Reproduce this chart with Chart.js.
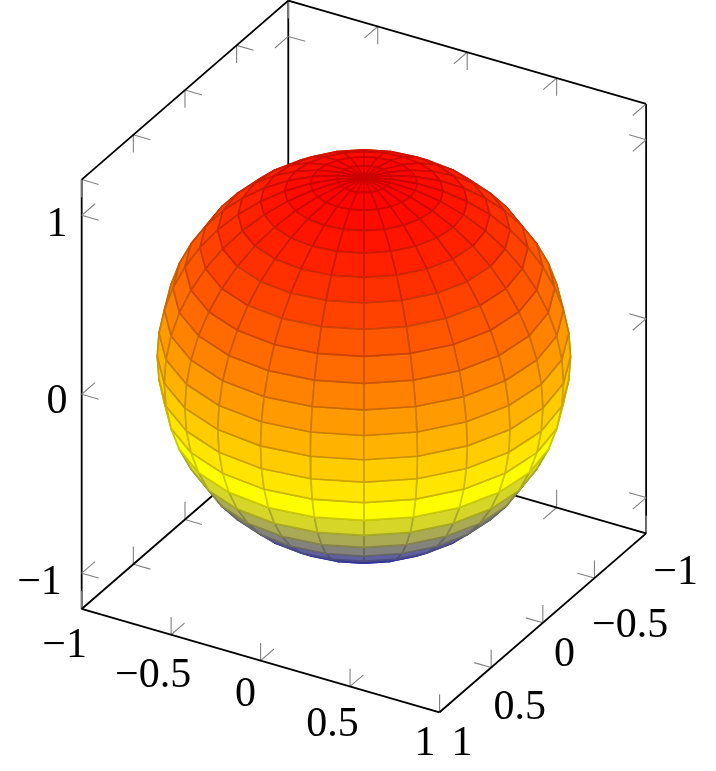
<!DOCTYPE html>
<html>
<head>
<meta charset="utf-8">
<title>Sphere</title>
<script src="https://cdn.jsdelivr.net/npm/chart.js@4/dist/chart.umd.min.js"></script>
<style>
  html, body { margin: 0; padding: 0; background: #fff; }
  #wrap { width: 716px; height: 771px; }
</style>
</head>
<body>
<div id="wrap"><canvas id="sphere" width="716" height="771"></canvas></div>
<script>
// surface grid of the sphere, in degrees
const lonDeg = [0, 15, 30, 45, 60, 75, 90, 105, 120, 135, 150, 165, 180, 195, 210, 225, 240, 255, 270, 285, 300, 315, 330, 345, 360];
const colatDeg = [0, 7.5, 15, 22.5, 30, 37.5, 45, 52.5, 60, 67.5, 75, 82.5, 90, 97.5, 105, 112.5, 120, 127.5, 135, 142.5, 150, 157.5, 165, 172.5, 180];

// axes
const xTicks = [-1, -0.5, 0, 0.5, 1];
const yTicks = [-1, -0.5, 0, 0.5, 1];
const zTicks = [-1, 0, 1];
const xTickLabels = ['\u22121', '\u22120.5', '0', '0.5', '1'];
const yTickLabels = ['\u22121', '\u22120.5', '0', '0.5', '1'];
const zTickLabels = ['\u22121', '0', '1'];
const xRange = [-1, 1];
const yRange = [-1, 1];
const zRange = [-1.2, 1.2];

// colormap "hot": blue, yellow, orange, red
const hotStops = [[0, 0, 255], [255, 255, 0], [255, 128, 0], [255, 0, 0]];

// label nudges in px from the tick
const xLabelNudge = [[-17, 48], [-18, 52], [-15, 45], [-17.5, 49.5], [-14.4, 42.7]];
const yLabelNudge = [[29.5, 50.7], [35.6, 59], [21.8, 43.2], [28.5, 51.4], [22.6, 42.7]];
const zLabelNudge = [[-42.2, 21.2], [-24.7, 19], [-24.7, 21]];

// view {30}{30}
const rad = Math.PI / 180;
const az = 30 * rad, el = 30 * rad;
const project = (x, y, z) => ({
    x: Math.cos(az) * x - Math.sin(az) * y,
    y: -Math.sin(az) * Math.sin(el) * x - Math.cos(az) * Math.sin(el) * y + Math.cos(el) * z
});
const depth = (x, y, z) => Math.sin(az) * Math.cos(el) * x + Math.cos(az) * Math.cos(el) * y + Math.sin(el) * z;

const hot = (z) => {
    const t = Math.max(0, Math.min(2.9999, (z + 1) / 2 * 3));
    const i = Math.floor(t), f = t - i;
    return hotStops[i].map((c, k) => c + (hotStops[i + 1][k] - c) * f);
};
const rgb = (c, k) => `rgb(${c.map(v => Math.round(v * k)).join(',')})`;

const sphere = (u, v) => [
    Math.cos(u * rad) * Math.sin(v * rad),
    Math.sin(u * rad) * Math.sin(v * rad),
    Math.cos(v * rad)
];

// quads back to front
let quads = [];
for (let i = 0; i < colatDeg.length - 1; i++) {
    for (let j = 0; j < lonDeg.length - 1; j++) {
        const corners = [
            sphere(lonDeg[j], colatDeg[i]),
            sphere(lonDeg[j + 1], colatDeg[i]),
            sphere(lonDeg[j + 1], colatDeg[i + 1]),
            sphere(lonDeg[j], colatDeg[i + 1]),
            sphere(lonDeg[j], colatDeg[i])
        ];
        const four = corners.slice(0, 4);
        const mean = k => four.reduce((s, c) => s + c[k], 0) / 4;
        quads.push({ corners, d: depth(mean(0), mean(1), mean(2)), z: mean(2) });
    }
}
quads.sort((a, b) => a.d - b.d);

const black = { borderColor: '#000', borderWidth: 1.8 };
const gray = { borderColor: '#808080', borderWidth: 1.1 };
const seg = (a, b, style) => ({
    data: [project(...a), project(...b)],
    showLine: true, pointRadius: 0, fill: false, borderCapStyle: 'butt', ...style
});

let paint = [];
const [x0, x1] = xRange, [y0, y1] = yRange, [z0, z1] = zRange;
const dx = 0.095, dy = 0.1295, dz = 0.099;

// vertical edges go under the ticks
paint.push(seg([x0, y1, z0], [x0, y1, z1], black));
paint.push(seg([x0, y0, z0], [x0, y0, z1], black));
paint.push(seg([x1, y0, z0], [x1, y0, z1], black));

xTicks.forEach(t => {
    paint.push(seg([t, y1, z0], [t, y1, z0 + dz], gray));
    paint.push(seg([t, y1, z0], [t, y1 - dy, z0], gray));
    paint.push(seg([t, y0, z0], [t, y0, z0 + dz], gray));
    paint.push(seg([t, y0, z0], [t, y0 + dy, z0], gray));
    if (t < x1) paint.push(seg([t, y0, z1], [t, y0, z1 - dz], gray));
    paint.push(seg([t, y0, z1], [t, y0 + dy, z1], gray));
});
yTicks.forEach(t => {
    paint.push(seg([x1, t, z0], [x1, t, z0 + dz], gray));
    paint.push(seg([x1, t, z0], [x1 - dx, t, z0], gray));
    paint.push(seg([x0, t, z0], [x0, t, z0 + dz], gray));
    paint.push(seg([x0, t, z0], [x0 + dx, t, z0], gray));
    paint.push(seg([x0, t, z1], [x0, t, z1 - dz], gray));
    paint.push(seg([x0, t, z1], [x0 + dx, t, z1], gray));
});
zTicks.forEach(t => {
    paint.push(seg([x0, y1, t], [x0 + dx, y1, t], gray));
    paint.push(seg([x0, y1, t], [x0, y1 - dy, t], gray));
    paint.push(seg([x0, y0, t], [x0 + dx, y0, t], gray));
    paint.push(seg([x0, y0, t], [x0, y0 + dy, t], gray));
    paint.push(seg([x1, y0, t], [x1 - dx, y0, t], gray));
    paint.push(seg([x1, y0, t], [x1, y0 + dy, t], gray));
});

// slanted edges
paint.push(seg([x0, y0, z0], [x1, y0, z0], black));
paint.push(seg([x0, y0, z0], [x0, y1, z0], black));
paint.push(seg([x0, y1, z0], [x1, y1, z0], black));
paint.push(seg([x1, y1, z0], [x1, y0, z0], black));
paint.push(seg([x0, y1, z1], [x0, y0, z1], black));
paint.push(seg([x0, y0, z1], [x1, y0, z1], black));

quads.forEach(q => {
    const c = hot(q.z);
    paint.push({
        data: q.corners.map(p => project(...p)),
        showLine: true,
        pointRadius: 0,
        fill: 'shape',
        backgroundColor: rgb(c, 1),
        borderColor: rgb(c, 0.8),
        borderWidth: 1.7,
        borderJoinStyle: 'round'
    });
});

// chart.js paints the first dataset last
paint.reverse();

const tickText = {
    id: 'tickText',
    afterDraw(chart) {
        const { ctx, scales } = chart;
        ctx.save();
        ctx.fillStyle = '#000';
        ctx.font = '42px "Liberation Serif"';
        ctx.textAlign = 'center';
        ctx.textBaseline = 'alphabetic';
        const put = (pos, text, nudge) => {
            const p = project(...pos);
            ctx.fillText(text, scales.x.getPixelForValue(p.x) + nudge[0], scales.y.getPixelForValue(p.y) + nudge[1]);
        };
        xTicks.forEach((t, i) => put([t, y1, z0], xTickLabels[i], xLabelNudge[i]));
        yTicks.forEach((t, i) => put([x1, t, z0], yTickLabels[i], yLabelNudge[i]));
        zTicks.forEach((t, i) => put([x0, y1, t], zTickLabels[i], zLabelNudge[i]));
        ctx.restore();
    }
};

// 206.6 px per view unit, sphere centre at (363.9, 356.45)
new Chart(document.getElementById('sphere').getContext('2d'), {
    type: 'scatter',
    data: { datasets: paint },
    options: {
        responsive: false,
        animation: false,
        clip: false,
        layout: { padding: 0 },
        plugins: { legend: { display: false }, tooltip: { enabled: false } },
        scales: {
            x: { type: 'linear', display: false, min: -363.9 / 206.6, max: (716 - 363.9) / 206.6 },
            y: { type: 'linear', display: false, min: (356.45 - 771) / 206.6, max: 356.45 / 206.6 }
        }
    },
    plugins: [tickText]
});
</script>
</body>
</html>
